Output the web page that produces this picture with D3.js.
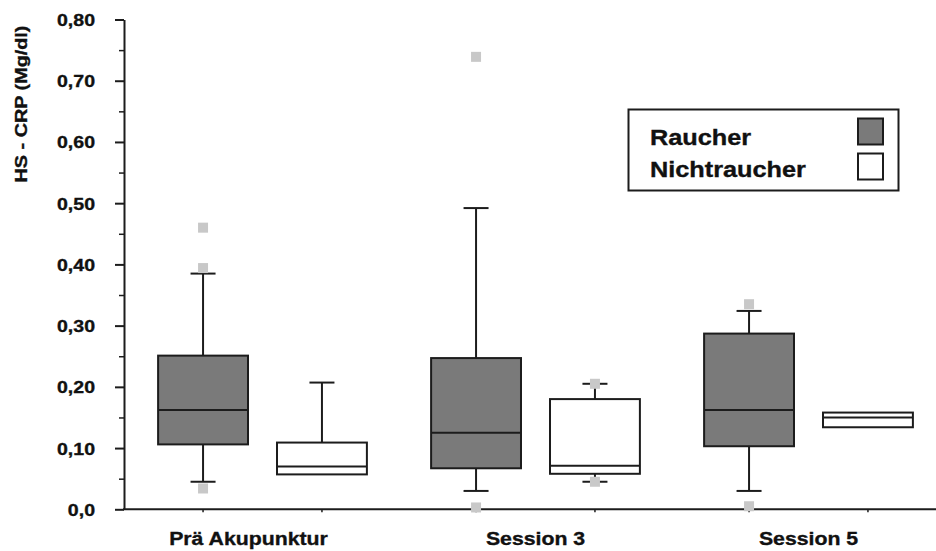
<!DOCTYPE html>
<html>
<head>
<meta charset="utf-8">
<script src="https://cdn.jsdelivr.net/npm/d3@7"></script>
<style>
  html, body { margin: 0; padding: 0; background: #fff; }
  svg { display: block; font-family: "Liberation Sans", Arial, sans-serif; font-weight: bold; }
  text { stroke: #111; stroke-width: 0.35px; }
</style>
</head>
<body>
<svg id="chart" width="936" height="551"></svg>
<script>
// Time points and groups
const timepoints = ["Prä Akupunktur", "Session 3", "Session 5"];
const groups = ["Raucher", "Nichtraucher"];

// Box statistics per time point (order follows `timepoints`)
const raucherQ1      = [0.106, 0.067, 0.103];
const raucherMedian  = [0.162, 0.125, 0.162];
const raucherQ3      = [0.251, 0.247, 0.287];
const raucherLow     = [0.045, 0.030, 0.030];
const raucherHigh    = [0.385, 0.492, 0.324];
const raucherOutliers = [[0.460, 0.394, 0.034], [0.739, 0.003], [0.335, 0.005]];

const nichtQ1      = [0.057, 0.058, 0.134];
const nichtMedian  = [0.070, 0.071, 0.150];
const nichtQ3      = [0.109, 0.180, 0.158];
const nichtLow     = [0.057, 0.045, 0.134];
const nichtHigh    = [0.207, 0.205, 0.158];
const nichtOutliers = [[], [0.205, 0.045], []];

// Y axis ticks
const majorTicks = [0, 0.1, 0.2, 0.3, 0.4, 0.5, 0.6, 0.7, 0.8];
const minorTicks = [0.05, 0.15, 0.25, 0.35, 0.45, 0.55, 0.65, 0.75];
const tickLabels = ["0,0", "0,10", "0,20", "0,30", "0,40", "0,50", "0,60", "0,70", "0,80"];

const yTitle = "HS - CRP (Mg/dl)";

const boxes = [];
timepoints.forEach((t, i) => {
  boxes.push({ t, g: "Raucher", q1: raucherQ1[i], med: raucherMedian[i], q3: raucherQ3[i],
               lo: raucherLow[i], hi: raucherHigh[i], out: raucherOutliers[i] });
  boxes.push({ t, g: "Nichtraucher", q1: nichtQ1[i], med: nichtMedian[i], q3: nichtQ3[i],
               lo: nichtLow[i], hi: nichtHigh[i], out: nichtOutliers[i] });
});

const svg = d3.select("#chart");
const ink = "#1c1c1c";
const fills = { "Raucher": "#7a7a7a", "Nichtraucher": "#ffffff" };
const stretch = 1.15;   // slightly wide lettering

const axisX = 124;
const y = d3.scaleLinear().domain([0, 0.8]).range([509.3, 19.5]);
const x = d3.scaleBand().domain(timepoints).range([126, 945]);
const xi = d3.scaleBand().domain(groups).range([0, x.bandwidth()])
  .paddingInner(0.244).paddingOuter(0.27);
const bw = xi.bandwidth();
const cx = d => x(d.t) + xi(d.g) + bw / 2;

// Y axis: major ticks with labels, minor ticks without
const yAxis = svg.append("g").attr("transform", `translate(${axisX},0)`)
  .call(d3.axisLeft(y).tickValues(majorTicks).tickSize(9).tickSizeOuter(0)
    .tickFormat((d, i) => tickLabels[i]));
yAxis.select(".domain").attr("stroke", ink).attr("stroke-width", 2);
yAxis.selectAll(".tick line").attr("stroke", ink).attr("stroke-width", 2);
yAxis.selectAll(".tick text")
  .attr("x", null).attr("dy", "0.35em")
  .attr("transform", `translate(-29,0) scale(${stretch},1)`)
  .attr("fill", "#111").style("font-size", "17px").style("font-family", null);
yAxis.attr("font-family", null).attr("font-size", null);

svg.append("g").attr("transform", `translate(${axisX},0)`)
  .call(d3.axisLeft(y).tickValues(minorTicks).tickSize(5).tickFormat(""))
  .call(g => g.select(".domain").remove())
  .selectAll(".tick line").attr("stroke", ink).attr("stroke-width", 1.5);

// X axis baseline and small ticks at each box
svg.append("line").attr("x1", axisX - 1).attr("x2", 936)
  .attr("y1", y(0)).attr("y2", y(0)).attr("stroke", ink).attr("stroke-width", 2);
svg.append("g").selectAll("line").data(boxes).join("line")
  .attr("x1", cx).attr("x2", cx).attr("y1", y(0)).attr("y2", y(0) + 3)
  .attr("stroke", ink).attr("stroke-width", 1.5);

// Category labels
svg.append("g").selectAll("text").data(timepoints).join("text")
  .attr("transform", d => `translate(${x(d) + x.bandwidth() / 2 - (d === timepoints[0] ? 14 : 0)},545) scale(${stretch},1)`)
  .attr("text-anchor", "middle").style("font-size", "18.5px").attr("fill", "#111")
  .text(d => d);

// Y title
svg.append("text")
  .attr("transform", `translate(27,104) rotate(-90) scale(1.2,1)`)
  .attr("text-anchor", "middle").style("font-size", "16.5px").attr("fill", "#111")
  .text(yTitle);

// Boxes
const bg = svg.append("g").selectAll("g").data(boxes).join("g");
const capW = 25;
bg.filter(d => d.hi > d.q3).append("line")
  .attr("x1", cx).attr("x2", cx).attr("y1", d => y(d.hi)).attr("y2", d => y(d.q3))
  .attr("stroke", ink).attr("stroke-width", 2);
bg.filter(d => d.hi > d.q3).append("line")
  .attr("x1", d => cx(d) - capW / 2).attr("x2", d => cx(d) + capW / 2)
  .attr("y1", d => y(d.hi)).attr("y2", d => y(d.hi))
  .attr("stroke", ink).attr("stroke-width", 2);
bg.filter(d => d.lo < d.q1).append("line")
  .attr("x1", cx).attr("x2", cx).attr("y1", d => y(d.q1)).attr("y2", d => y(d.lo))
  .attr("stroke", ink).attr("stroke-width", 2);
bg.filter(d => d.lo < d.q1).append("line")
  .attr("x1", d => cx(d) - capW / 2).attr("x2", d => cx(d) + capW / 2)
  .attr("y1", d => y(d.lo)).attr("y2", d => y(d.lo))
  .attr("stroke", ink).attr("stroke-width", 2);
bg.append("rect")
  .attr("x", d => cx(d) - bw / 2).attr("width", bw)
  .attr("y", d => y(d.q3)).attr("height", d => y(d.q1) - y(d.q3))
  .attr("fill", d => fills[d.g]).attr("stroke", ink).attr("stroke-width", 2);
bg.append("line")
  .attr("x1", d => cx(d) - bw / 2).attr("x2", d => cx(d) + bw / 2)
  .attr("y1", d => y(d.med)).attr("y2", d => y(d.med))
  .attr("stroke", ink).attr("stroke-width", 2);

// Outliers
const pts = boxes.flatMap(d => d.out.map(v => ({ x: cx(d), v })));
svg.append("g").selectAll("rect").data(pts).join("rect")
  .attr("x", d => d.x - 5).attr("y", d => y(d.v) - 5)
  .attr("width", 10).attr("height", 10).attr("fill", "#c8c8c8");

// Legend
const lg = svg.append("g");
lg.append("rect").attr("x", 628.5).attr("y", 109.5).attr("width", 270).attr("height", 81)
  .attr("fill", "#fff").attr("stroke", ink).attr("stroke-width", 2);
groups.forEach((g, i) => {
  lg.append("text").attr("transform", `translate(650,${145 + i * 32}) scale(${stretch},1)`)
    .style("font-size", "22px").attr("fill", "#111").text(g);
  lg.append("rect").attr("x", 858).attr("y", 118.5 + i * 35).attr("width", 25).attr("height", 26)
    .attr("fill", fills[g]).attr("stroke", ink).attr("stroke-width", 2);
});
</script>
</body>
</html>
